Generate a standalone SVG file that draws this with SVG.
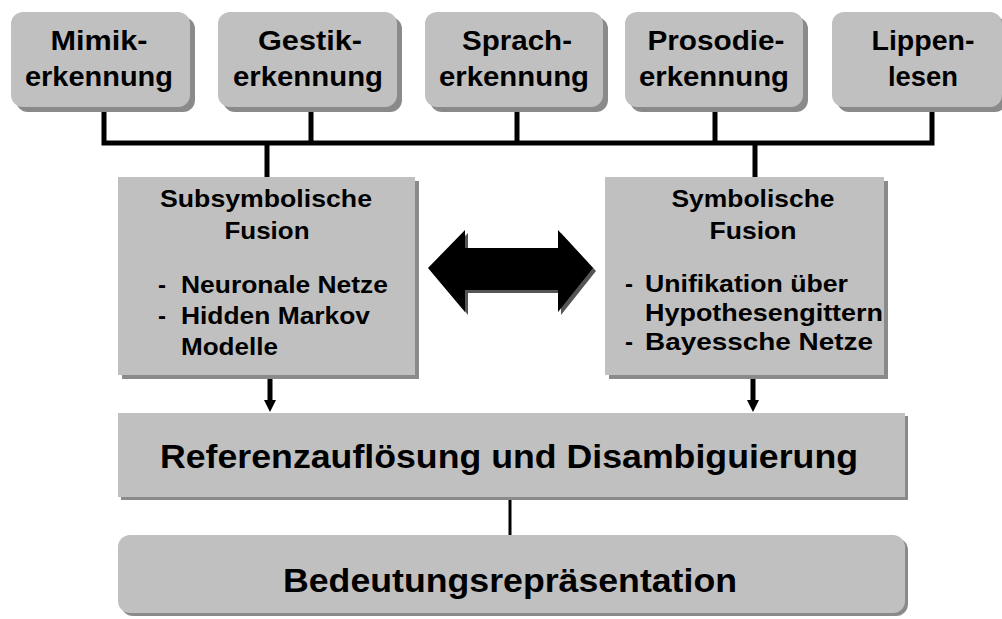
<svg xmlns="http://www.w3.org/2000/svg" width="1002" height="619" viewBox="0 0 1002 619">
<defs>
<style>
.box{fill:#c0c0c0}
.sh{fill:#8a8a8a}
.t{font-family:"Liberation Sans",Arial,sans-serif;font-weight:bold;fill:#000}
.top{font-size:27px;text-anchor:middle}
.mid{font-size:24px}
.mc{text-anchor:middle}
.ref{font-size:33px;text-anchor:middle}
.bed{font-size:34px;text-anchor:middle}
.ln{stroke:#000;stroke-width:5;fill:none}
</style>
</defs>
<rect width="1002" height="619" fill="#fff"/>

<g id="connectors">
<path class="ln" d="M104,107 V143 H932 V107"/>
<path class="ln" d="M311,107 V143"/>
<path class="ln" d="M517,107 V143"/>
<path class="ln" d="M715,107 V143"/>
<path class="ln" d="M267,143 V177"/>
<path class="ln" d="M755,143 V177"/>
<path d="M267.5,377 H272.5 V400 H276 L270,412 L264,400 H267.5 Z" fill="#000"/>
<path d="M750.5,377 H755.5 V400 H759 L753,412 L747,400 H750.5 Z" fill="#000"/>
<path stroke="#000" stroke-width="3" d="M510,499 V535"/>
<g id="double-arrow">
<path d="M431,271 L468,233 V251 H561 V233 L596,271 L561,315 V293 H468 V315 Z" fill="#555"/>
<path d="M428,268 L465,230 V248 H558 V230 L593,268 L558,312 V290 H465 V312 Z" fill="#000"/>
</g>
</g>

<g id="mimik">
<rect class="sh" x="16" y="17" width="179" height="95" rx="12"/>
<rect class="box" x="11" y="12" width="179" height="95" rx="12"/>
<text class="t top" x="99" y="50" textLength="97" lengthAdjust="spacingAndGlyphs">Mimik-</text>
<text class="t top" x="99" y="86" textLength="148" lengthAdjust="spacingAndGlyphs">erkennung</text>
</g>
<g id="gestik">
<rect class="sh" x="223" y="17" width="179" height="95" rx="12"/>
<rect class="box" x="218" y="12" width="179" height="95" rx="12"/>
<text class="t top" x="310" y="50" textLength="104" lengthAdjust="spacingAndGlyphs">Gestik-</text>
<text class="t top" x="308" y="86" textLength="150" lengthAdjust="spacingAndGlyphs">erkennung</text>
</g>
<g id="sprach">
<rect class="sh" x="430" y="17" width="178" height="95" rx="12"/>
<rect class="box" x="425" y="12" width="178" height="95" rx="12"/>
<text class="t top" x="517" y="50" textLength="110" lengthAdjust="spacingAndGlyphs">Sprach-</text>
<text class="t top" x="514" y="86" textLength="150" lengthAdjust="spacingAndGlyphs">erkennung</text>
</g>
<g id="prosodie">
<rect class="sh" x="630" y="17" width="178" height="95" rx="12"/>
<rect class="box" x="625" y="12" width="178" height="95" rx="12"/>
<text class="t top" x="716" y="50" textLength="137" lengthAdjust="spacingAndGlyphs">Prosodie-</text>
<text class="t top" x="714" y="86" textLength="150" lengthAdjust="spacingAndGlyphs">erkennung</text>
</g>
<g id="lippen">
<rect class="sh" x="837" y="17" width="170" height="95" rx="12"/>
<rect class="box" x="832" y="12" width="170" height="95" rx="12"/>
<text class="t top" x="923" y="50" textLength="103" lengthAdjust="spacingAndGlyphs">Lippen-</text>
<text class="t top" x="923" y="86" textLength="70" lengthAdjust="spacingAndGlyphs">lesen</text>
</g>

<g id="subsymbolisch">
<rect class="sh" x="122" y="181" width="297" height="198"/>
<rect class="box" x="118" y="177" width="297" height="198"/>
<text class="t mid mc" x="266" y="207" textLength="212" lengthAdjust="spacingAndGlyphs">Subsymbolische</text>
<text class="t mid mc" x="267" y="239" textLength="85" lengthAdjust="spacingAndGlyphs">Fusion</text>
<text class="t mid" x="158" y="293">-</text>
<text class="t mid" x="181" y="293" textLength="207" lengthAdjust="spacingAndGlyphs">Neuronale Netze</text>
<text class="t mid" x="158" y="324">-</text>
<text class="t mid" x="181" y="324" textLength="189" lengthAdjust="spacingAndGlyphs">Hidden Markov</text>
<text class="t mid" x="181" y="355" textLength="97" lengthAdjust="spacingAndGlyphs">Modelle</text>
</g>

<g id="symbolisch">
<rect class="sh" x="609" y="181" width="279" height="198"/>
<rect class="box" x="605" y="177" width="279" height="198"/>
<text class="t mid mc" x="753" y="207" textLength="163" lengthAdjust="spacingAndGlyphs">Symbolische</text>
<text class="t mid mc" x="753" y="239" textLength="87" lengthAdjust="spacingAndGlyphs">Fusion</text>
<text class="t mid" x="625" y="292">-</text>
<text class="t mid" x="645" y="292" textLength="203" lengthAdjust="spacingAndGlyphs">Unifikation über</text>
<text class="t mid" x="645" y="321" textLength="238" lengthAdjust="spacingAndGlyphs">Hypothesengittern</text>
<text class="t mid" x="625" y="350">-</text>
<text class="t mid" x="645" y="350" textLength="228" lengthAdjust="spacingAndGlyphs">Bayessche Netze</text>
</g>

<g id="referenz">
<rect class="sh" x="121" y="416" width="787" height="84"/>
<rect class="box" x="118" y="413" width="787" height="84"/>
<text class="t ref" x="509" y="468" textLength="698" lengthAdjust="spacingAndGlyphs">Referenzauflösung und Disambiguierung</text>
</g>

<g id="bedeutung">
<rect class="sh" x="121" y="538" width="787" height="78" rx="12"/>
<rect class="box" x="118" y="535" width="787" height="78" rx="12"/>
<text class="t bed" x="510" y="592" textLength="454" lengthAdjust="spacingAndGlyphs">Bedeutungsrepräsentation</text>
</g>
</svg>
